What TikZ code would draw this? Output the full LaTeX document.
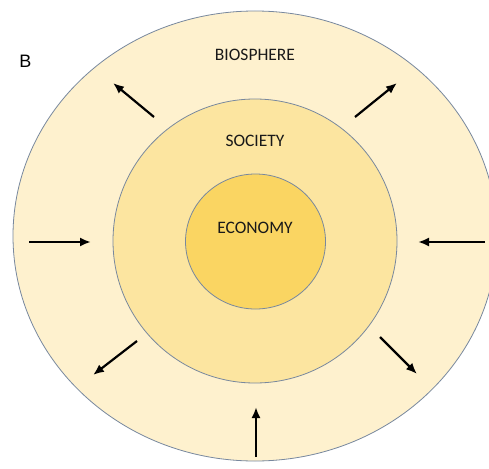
\documentclass[tikz,border=0pt]{standalone}
\usepackage{fontspec}
\setmainfont{Carlito}
\newfontfamily\labelfont{Liberation Sans}
\usetikzlibrary{arrows.meta}
\tikzset{>={Latex[length=11pt,width=9pt]}}
\definecolor{biocream}{RGB}{254,241,206}
\definecolor{socyellow}{RGB}{252,229,160}
\definecolor{ecogold}{RGB}{250,213,98}
\definecolor{ringline}{RGB}{120,136,158}
\definecolor{labeltext}{RGB}{25,25,25}
\tikzstyle{ring}=[draw=ringline,line width=0.8pt]
\tikzstyle{flow}=[->,line width=2.2pt,black]
\tikzstyle{sphere}=[text=labeltext,font=\fontsize{17.5}{20}\selectfont]

\begin{document}
\begin{tikzpicture}[x=1pt,y=-1pt]
  \useasboundingbox (0,0) rectangle (489,468);
  \begin{scope}
    \clip (0,0) rectangle (489,468);
    \fill[white] (0,0) rectangle (489,468);
    \draw[ring,fill=biocream] (255,236) ellipse [x radius=242,y radius=225];
    \draw[ring,fill=socyellow] (255,241) circle [radius=142];
    \draw[ring,fill=ecogold] (255.5,241.5) ellipse [x radius=70,y radius=67.5];
  \end{scope}

  \node[font=\labelfont\fontsize{18}{20}\selectfont] (panel) at (25.5,61) {B};
  \node[sphere] (bio) at (255,55) {BIOSPHERE};
  \node[sphere] (soc) at (255,141) {SOCIETY};
  \node[sphere] (eco) at (255,228) {ECONOMY};

  % arrows between the rings
  \coordinate (ulA) at (154,117); \coordinate (ulB) at (113,83);
  \coordinate (urA) at (355,117); \coordinate (urB) at (397,83);
  \coordinate (lA) at (29,242);   \coordinate (lB) at (91,242);
  \coordinate (rA) at (485,242);  \coordinate (rB) at (418,242);
  \coordinate (llA) at (137,341); \coordinate (llB) at (93,375);
  \coordinate (lrA) at (380,337); \coordinate (lrB) at (417,374);
  \coordinate (bA) at (256,457);  \coordinate (bB) at (256,407);
  \foreach \s in {ul,ur,l,r,ll,lr,b}
    \draw[flow] (\s A) -- (\s B);
\end{tikzpicture}
\end{document}
